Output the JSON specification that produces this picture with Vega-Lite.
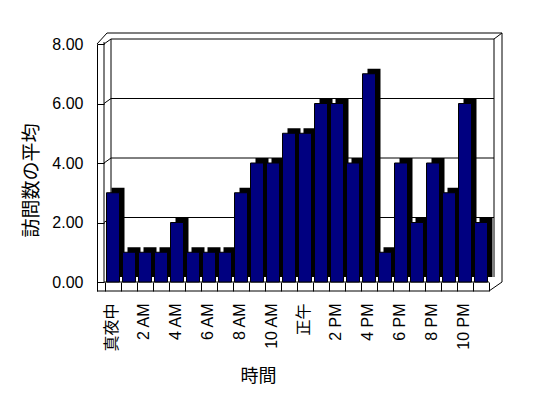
{
  "$schema": "https://vega.github.io/schema/vega-lite/v6.json",
  "autosize": "none",
  "padding": {"left": 97, "top": 44, "right": 51, "bottom": 107},
  "width": 400,
  "height": 247,
  "background": "white",
  "config": {
    "view": {"stroke": null},
    "font": "Liberation Sans, Noto Sans CJK JP",
    "axis": {"labelFont": "Liberation Sans, Noto Sans CJK JP", "titleFont": "Liberation Sans, Noto Sans CJK JP", "labelColor": "black", "titleColor": "black", "domainColor": "black", "tickColor": "black", "titleFontWeight": "normal"}
  },
  "datasets": {
    "visits": [
      {"hour": "真夜中", "avg": 3},
      {"hour": "1 AM", "avg": 1},
      {"hour": "2 AM", "avg": 1},
      {"hour": "3 AM", "avg": 1},
      {"hour": "4 AM", "avg": 2},
      {"hour": "5 AM", "avg": 1},
      {"hour": "6 AM", "avg": 1},
      {"hour": "7 AM", "avg": 1},
      {"hour": "8 AM", "avg": 3},
      {"hour": "9 AM", "avg": 4},
      {"hour": "10 AM", "avg": 4},
      {"hour": "11 AM", "avg": 5},
      {"hour": "正午", "avg": 5},
      {"hour": "1 PM", "avg": 6},
      {"hour": "2 PM", "avg": 6},
      {"hour": "3 PM", "avg": 4},
      {"hour": "4 PM", "avg": 7},
      {"hour": "5 PM", "avg": 1},
      {"hour": "6 PM", "avg": 4},
      {"hour": "7 PM", "avg": 2},
      {"hour": "8 PM", "avg": 4},
      {"hour": "9 PM", "avg": 3},
      {"hour": "10 PM", "avg": 6},
      {"hour": "11 PM", "avg": 2}
    ],
    "grid": [{"g": 2}, {"g": 4}, {"g": 6}, {"g": 8}],
    "one": [{"k": 1}]
  },
  "layer": [
    {
      "data": {"name": "grid"},
      "mark": {"type": "rule", "color": "black", "strokeWidth": 1, "yOffset": -5, "y2Offset": -5, "xOffset": 6, "x2Offset": 13},
      "encoding": {
        "x": {"datum": "真夜中", "bandPosition": 0},
        "x2": {"datum": "11 PM"},
        "y": {"field": "g", "type": "quantitative", "scale": {"domain": [-0.3025, 8], "nice": false, "zero": false},
          "axis": {"values": [0, 2, 4, 6, 8], "format": ".2f", "grid": false, "tickSize": -7, "labelPadding": 21, "labelFontSize": 16, "title": "訪問数の平均", "titleFontSize": 19, "titlePadding": 10, "titleY": 136}},
        "y2": {"field": "g"}
      }
    },
    {
      "data": {"name": "grid"},
      "mark": {"type": "rule", "color": "black", "strokeWidth": 1, "xOffset": -1, "x2Offset": -2, "y2Offset": -5},
      "encoding": {
        "x": {"datum": "真夜中", "bandPosition": 0},
        "x2": {"datum": "真夜中"},
        "y": {"field": "g", "type": "quantitative"},
        "y2": {"field": "g"}
      }
    },
    {
      "data": {"name": "one"},
      "mark": {"type": "rule", "color": "black", "strokeWidth": 1, "yOffset": -11, "y2Offset": -11, "xOffset": 2, "x2Offset": 21},
      "encoding": {"x": {"datum": "真夜中", "bandPosition": 0}, "x2": {"datum": "11 PM"}, "y": {"datum": 8, "type": "quantitative"}, "y2": {"datum": 8}}
    },
    {
      "data": {"name": "one"},
      "mark": {"type": "rule", "color": "black", "strokeWidth": 1, "xOffset": -8, "x2Offset": -6, "y2Offset": -11},
      "encoding": {"x": {"datum": "真夜中", "bandPosition": 0}, "x2": {"datum": "真夜中"}, "y": {"datum": 8, "type": "quantitative"}, "y2": {"datum": 8}}
    },
    {
      "data": {"name": "one"},
      "mark": {"type": "rule", "color": "black", "strokeWidth": 1, "xOffset": 13, "yOffset": -5, "x2Offset": 21, "y2Offset": -11},
      "encoding": {"x": {"datum": "11 PM"}, "x2": {"datum": "11 PM"}, "y": {"datum": 8, "type": "quantitative"}, "y2": {"datum": 8}}
    },
    {
      "data": {"name": "one"},
      "mark": {"type": "rule", "color": "black", "strokeWidth": 1, "xOffset": 8, "x2Offset": 21},
      "encoding": {"x": {"datum": "11 PM"}, "x2": {"datum": "11 PM"}, "y": {"datum": -0.3025, "type": "quantitative"}, "y2": {"datum": 0}}
    },
    {
      "data": {"name": "one"},
      "mark": {"type": "rule", "color": "black", "strokeWidth": 1, "xOffset": -8, "x2Offset": 8},
      "encoding": {"x": {"datum": "真夜中", "bandPosition": 0}, "x2": {"datum": "11 PM"}, "y": {"datum": -0.3025, "type": "quantitative"}, "y2": {"datum": -0.3025}}
    },
    {
      "data": {"name": "one"},
      "mark": {"type": "rule", "color": "black", "strokeWidth": 1, "xOffset": 6, "yOffset": -5, "y2Offset": -5},
      "encoding": {"x": {"datum": "真夜中", "bandPosition": 0}, "y": {"datum": 0, "type": "quantitative"}, "y2": {"datum": 8}}
    },
    {
      "data": {"name": "one"},
      "mark": {"type": "rule", "color": "black", "strokeWidth": 1, "xOffset": -1, "y2Offset": -2},
      "encoding": {"x": {"datum": "真夜中", "bandPosition": 0}, "y": {"datum": 0, "type": "quantitative"}, "y2": {"datum": 8}}
    },
    {
      "data": {"name": "one"},
      "mark": {"type": "rule", "color": "black", "strokeWidth": 1, "xOffset": 5, "yOffset": -5, "y2Offset": -5},
      "encoding": {"x": {"datum": "11 PM", "bandPosition": 1}, "y": {"datum": 0, "type": "quantitative"}, "y2": {"datum": 8}}
    },
    {
      "data": {"name": "one"},
      "mark": {"type": "rule", "color": "black", "strokeWidth": 1, "xOffset": 13, "y2Offset": -11},
      "encoding": {"x": {"datum": "11 PM", "bandPosition": 1}, "y": {"datum": 0, "type": "quantitative"}, "y2": {"datum": 8}}
    },
    {
      "data": {"name": "one"},
      "mark": {"type": "rule", "color": "black", "strokeWidth": 1, "xOffset": -1, "x2Offset": 8},
      "encoding": {"x": {"datum": "真夜中", "bandPosition": 0}, "x2": {"datum": "11 PM"}, "y": {"datum": 0, "type": "quantitative"}, "y2": {"datum": 0}}
    },
    {
      "data": {"name": "visits"},
      "mark": {"type": "bar", "color": "black", "width": {"band": 0.8125}, "xOffset": 5, "yOffset": -5},
      "encoding": {
        "x": {"field": "hour", "type": "nominal", "sort": null,
          "scale": {"domain": ["真夜中","1 AM","2 AM","3 AM","4 AM","5 AM","6 AM","7 AM","8 AM","9 AM","10 AM","11 AM","正午","1 PM","2 PM","3 PM","4 PM","5 PM","6 PM","7 PM","8 PM","9 PM","10 PM","11 PM"], "paddingInner": 0, "paddingOuter": 0.5},
          "axis": {"domain": false, "tickBand": "extent", "tickSize": -9, "labelAngle": -90, "labelPadding": 21, "labelFontSize": 16, "labelOffset": -2, "labelExpr": "test(/^(1|3|5|7|9|11) /, datum.label) ? '' : datum.label", "title": "時間", "titleFontSize": 18, "titleX": 161, "titlePadding": 16}},
        "y": {"field": "avg", "type": "quantitative"}
      }
    },
    {
      "data": {"name": "visits"},
      "mark": {"type": "bar", "color": "#000080", "stroke": "black", "strokeWidth": 1, "width": {"band": 0.8125}},
      "encoding": {
        "x": {"field": "hour", "type": "nominal", "sort": null},
        "y": {"field": "avg", "type": "quantitative"}
      }
    }
  ]
}
